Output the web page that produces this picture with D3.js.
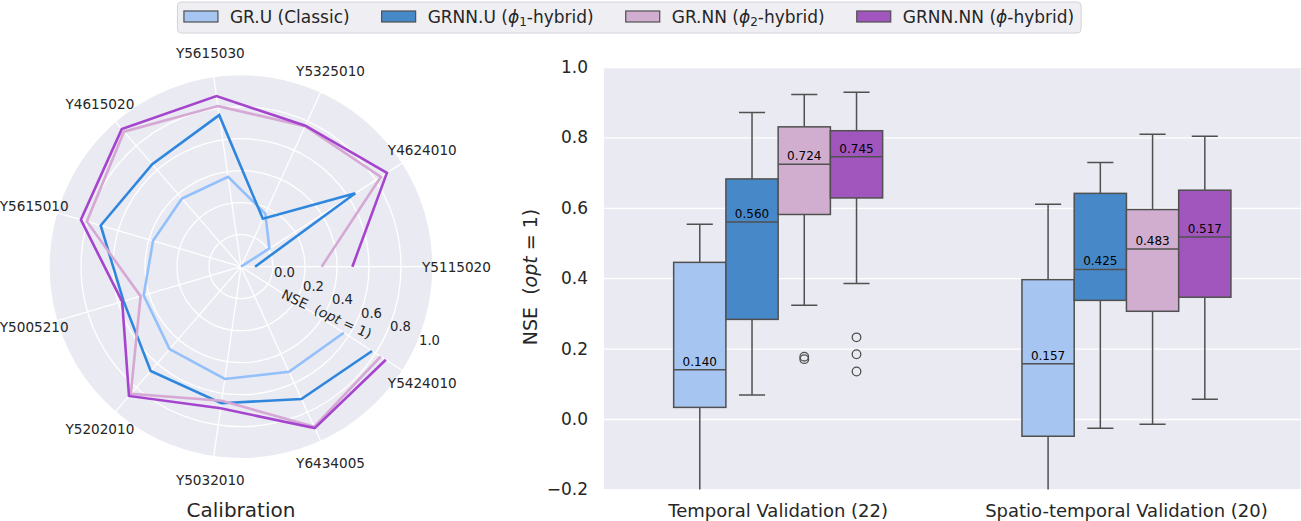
<!DOCTYPE html>
<html>
<head>
<meta charset="utf-8">
<script src="https://cdn.jsdelivr.net/npm/d3@7"></script>
<style>
  body { margin: 0; background: #fff; }
  svg { display: block; font-family: "DejaVu Sans", sans-serif; }
</style>
</head>
<body>
<div id="chart"></div>
<script>
// ---- data ----
const seriesKeys = ["GR.U", "GRNN.U", "GR.NN", "GRNN.NN"];
const legendLabels = [
  { pre: "GR.U (Classic)" },
  { pre: "GRNN.U (", sym: "ϕ", sub: "1", post: "-hybrid)" },
  { pre: "GR.NN (", sym: "ϕ", sub: "2", post: "-hybrid)" },
  { pre: "GRNN.NN (", sym: "ϕ", sub: "", post: "-hybrid)" }
];

// calibration NSE per station (radar)
const stations = ["Y5115020", "Y4624010", "Y5325010", "Y5615030", "Y4615020", "Y5615010",
                  "Y5005210", "Y5202010", "Y5032010", "Y6434005", "Y5424010"];
const calGRU    = [-0.20, 0.011, 0.165, 0.367, 0.364, 0.373, 0.434, 0.482, 0.509, 0.522, 0.564];
const calGRNNU  = [-0.112, 0.649, 0.129, 0.757, 0.647, 0.714, 0.565, 0.662, 0.662, 0.709, 0.774];
const calGRNN   = [0.304, 0.839, 0.765, 0.814, 0.917, 0.804, 0.454, 0.852, 0.646, 0.900, 0.838];
const calGRNNNN = [0.496, 0.884, 0.769, 0.877, 0.938, 0.843, 0.574, 0.869, 0.694, 0.909, 0.876];
const radialTicks = [0.0, 0.2, 0.4, 0.6, 0.8, 1.0];

// validation boxes: [lower whisker, q1, median, q3, upper whisker]
const categories = ["Temporal Validation (22)", "Spatio-temporal Validation (20)"];
const temporalStats = [
  [-0.45, 0.033, 0.140, 0.445, 0.553],
  [0.068, 0.283, 0.560, 0.682, 0.871],
  [0.323, 0.581, 0.724, 0.830, 0.922],
  [0.385, 0.628, 0.745, 0.819, 0.928]
];
const temporalOutliers = [[], [], [0.177, 0.170], [0.232, 0.184, 0.135]];
const spatialStats = [
  [-0.40, -0.049, 0.157, 0.396, 0.610],
  [-0.026, 0.337, 0.425, 0.641, 0.729],
  [-0.015, 0.306, 0.483, 0.595, 0.809],
  [0.056, 0.346, 0.517, 0.650, 0.803]
];
const spatialOutliers = [[], [], [], []];
const yTicks = [-0.2, 0.0, 0.2, 0.4, 0.6, 0.8, 1.0];

// ---- style ----
const lineColors = ["#93c0fb", "#2f87dd", "#d6a8d4", "#a545ce"];
const boxColors  = ["#a6c5f1", "#4788c9", "#d1aecf", "#a056bd"];
const edgeColor = "#505050";
const panelBg = "#eaeaf2";

const W = 1301, H = 521;
const svg = d3.select("#chart").append("svg")
  .attr("width", W).attr("height", H);

// ================= radar (calibration) =================
const cx = 241, cy = 266.7, R = 192;
const calSeries = [calGRU, calGRNNU, calGRNN, calGRNNNN];
const rScale = d3.scaleLinear().domain([-0.2, 1.0]).range([0, R]).clamp(true);
const angleOf = i => i * 2 * Math.PI / stations.length;   // ccw from east

const radar = svg.append("g").attr("transform", `translate(${cx},${cy})`);
radar.append("circle").attr("r", R).attr("fill", panelBg);

// grid circles
radar.selectAll("circle.grid")
  .data(radialTicks)
  .join("circle")
  .attr("class", "grid")
  .attr("r", d => rScale(d))
  .attr("fill", "none")
  .attr("stroke", "#fff")
  .attr("stroke-width", 1.3);

// spokes
radar.selectAll("line.spoke")
  .data(stations)
  .join("line")
  .attr("class", "spoke")
  .attr("x1", 0).attr("y1", 0)
  .attr("x2", (d, i) => R * Math.cos(angleOf(i)))
  .attr("y2", (d, i) => -R * Math.sin(angleOf(i)))
  .attr("stroke", "#fff")
  .attr("stroke-width", 1.3);

// series lines (not closed)
const radial = d3.lineRadial()
  .angle((d, i) => Math.PI / 2 - angleOf(i))
  .radius(d => rScale(d));

radar.selectAll("path.series")
  .data(calSeries)
  .join("path")
  .attr("class", "series")
  .attr("d", radial)
  .attr("fill", "none")
  .attr("stroke", (d, i) => lineColors[i])
  .attr("stroke-width", 2.6)
  .attr("stroke-linejoin", "miter");

// station labels
const labelR = 215.5;
radar.selectAll("text.station")
  .data(stations)
  .join("text")
  .attr("class", "station")
  .attr("x", (d, i) => labelR * Math.cos(angleOf(i)))
  .attr("y", (d, i) => -labelR * Math.sin(angleOf(i)))
  .attr("dy", "0.36em")
  .attr("text-anchor", "middle")
  .attr("font-size", 13.6)
  .attr("fill", "#262626")
  .text(d => d);

// radial tick labels along -25 degrees
const rlab = 25 * Math.PI / 180;
radar.selectAll("text.rtick")
  .data(radialTicks)
  .join("text")
  .attr("class", "rtick")
  .attr("x", d => rScale(d) * Math.cos(rlab) + 4)
  .attr("y", d => rScale(d) * Math.sin(rlab) - 3)
  .attr("font-size", 13.2)
  .attr("fill", "#262626")
  .text(d3.format(".1f"));

const rAxisLabel = radar.append("text")
  .attr("transform", `translate(85.7,47.3) rotate(25)`)
  .attr("text-anchor", "middle")
  .attr("dy", "0.36em")
  .attr("font-size", 13.6)
  .attr("fill", "#262626");
rAxisLabel.append("tspan").text("NSE\u00a0\u00a0(");
rAxisLabel.append("tspan").attr("font-style", "italic").text("opt");
rAxisLabel.append("tspan").text(" = 1)");

svg.append("text")
  .attr("x", cx).attr("y", 516.5)
  .attr("text-anchor", "middle")
  .attr("font-size", 20)
  .attr("fill", "#262626")
  .text("Calibration");

// ================= box plots (validation) =================
const plot = { left: 604, right: 1300.6, top: 67, bottom: 489.4 };
const x = d3.scaleBand().domain(categories).range([plot.left, plot.right]).padding(0);
const bw = x.bandwidth();
const xHue = d3.scaleBand().domain(seriesKeys).range([-0.3 * bw, 0.3 * bw]).padding(0);
const y = d3.scaleLinear().domain([-0.2, 1.0]).range([plot.bottom, plot.top]);

svg.append("rect")
  .attr("x", plot.left).attr("y", plot.top)
  .attr("width", plot.right - plot.left).attr("height", plot.bottom - plot.top)
  .attr("fill", panelBg);

svg.append("clipPath").attr("id", "plotClip")
  .append("rect")
  .attr("x", plot.left).attr("y", plot.top)
  .attr("width", plot.right - plot.left).attr("height", plot.bottom - plot.top);

// y axis with gridlines
const yAxis = svg.append("g")
  .attr("transform", `translate(${plot.left},0)`)
  .call(d3.axisLeft(y).tickValues(yTicks).tickFormat(d3.format(".1f"))
    .tickSize(-(plot.right - plot.left)).tickPadding(16));
yAxis.select(".domain").remove();
yAxis.selectAll(".tick line").attr("stroke", "#fff").attr("stroke-width", 1.3);
yAxis.selectAll(".tick text")
  .attr("font-size", 17).attr("fill", "#262626")
  .attr("font-family", "DejaVu Sans, sans-serif");

// x axis labels
const xAxis = svg.append("g")
  .attr("transform", `translate(0,${plot.bottom})`)
  .call(d3.axisBottom(x).tickSize(0).tickPadding(15));
xAxis.select(".domain").remove();
xAxis.selectAll(".tick text")
  .attr("font-size", 18).attr("fill", "#262626")
  .attr("font-family", "DejaVu Sans, sans-serif");

// y label
const yLabel = svg.append("text")
  .attr("transform", "translate(530,277) rotate(-90)")
  .attr("text-anchor", "middle")
  .attr("dy", "0.36em")
  .attr("font-size", 19)
  .attr("fill", "#262626");
yLabel.append("tspan").text("NSE\u00a0\u00a0(");
yLabel.append("tspan").attr("font-style", "italic").text("opt");
yLabel.append("tspan").text(" = 1)");

// boxes
const groups = [
  { cat: categories[0], stats: temporalStats, outliers: temporalOutliers },
  { cat: categories[1], stats: spatialStats, outliers: spatialOutliers }
];
const boxData = [];
groups.forEach(g => g.stats.forEach((s, i) => boxData.push({
  cat: g.cat, key: seriesKeys[i], idx: i, lo: s[0], q1: s[1], med: s[2], q3: s[3], hi: s[4],
  out: g.outliers[i]
})));

const boxes = svg.append("g").attr("clip-path", "url(#plotClip)")
  .selectAll("g.box")
  .data(boxData)
  .join("g")
  .attr("class", "box")
  .attr("transform", d => `translate(${x(d.cat) + bw / 2 + xHue(d.key)},0)`);

const hw = xHue.bandwidth();
boxes.append("line")
  .attr("x1", hw / 2).attr("x2", hw / 2)
  .attr("y1", d => y(d.lo)).attr("y2", d => y(d.q1))
  .attr("stroke", edgeColor).attr("stroke-width", 1.5);
boxes.append("line")
  .attr("x1", hw / 2).attr("x2", hw / 2)
  .attr("y1", d => y(d.q3)).attr("y2", d => y(d.hi))
  .attr("stroke", edgeColor).attr("stroke-width", 1.5);
boxes.append("line")
  .attr("x1", hw / 4).attr("x2", hw * 3 / 4)
  .attr("y1", d => y(d.lo)).attr("y2", d => y(d.lo))
  .attr("stroke", edgeColor).attr("stroke-width", 1.5);
boxes.append("line")
  .attr("x1", hw / 4).attr("x2", hw * 3 / 4)
  .attr("y1", d => y(d.hi)).attr("y2", d => y(d.hi))
  .attr("stroke", edgeColor).attr("stroke-width", 1.5);
boxes.append("rect")
  .attr("x", 0).attr("width", hw)
  .attr("y", d => y(d.q3)).attr("height", d => y(d.q1) - y(d.q3))
  .attr("fill", d => boxColors[d.idx])
  .attr("stroke", edgeColor).attr("stroke-width", 1.5);
boxes.append("line")
  .attr("x1", 0).attr("x2", hw)
  .attr("y1", d => y(d.med)).attr("y2", d => y(d.med))
  .attr("stroke", edgeColor).attr("stroke-width", 1.5);
boxes.append("text")
  .attr("x", hw / 2).attr("y", d => y(d.med) - 4)
  .attr("text-anchor", "middle")
  .attr("font-size", 12)
  .attr("fill", "#000")
  .text(d => d3.format(".3f")(d.med));
boxes.selectAll("circle")
  .data(d => d.out)
  .join("circle")
  .attr("cx", hw / 2).attr("cy", v => y(v))
  .attr("r", 4.3)
  .attr("fill", "none")
  .attr("stroke", edgeColor).attr("stroke-width", 1.3);

// ================= legend =================
const legend = svg.append("g");
const legFrame = legend.append("rect")
  .attr("y", 2).attr("height", 31).attr("rx", 4)
  .attr("fill", "#eeeef3").attr("stroke", "#d3d3d8").attr("stroke-width", 1);
let cursor = 0;
legendLabels.forEach((lab, i) => {
  legend.append("rect")
    .attr("x", cursor).attr("y", 11).attr("width", 34).attr("height", 11)
    .attr("fill", boxColors[i]).attr("stroke", edgeColor).attr("stroke-width", 1.2);
  const t = legend.append("text")
    .attr("x", cursor + 46).attr("y", 22.5)
    .attr("font-size", 17).attr("fill", "#262626");
  t.append("tspan").text(lab.pre);
  if (lab.sym) {
    t.append("tspan").attr("font-style", "italic").text(lab.sym);
    if (lab.sub) {
      t.append("tspan").attr("font-size", 12).attr("dy", 3).text(lab.sub);
      t.append("tspan").attr("dy", -3).text(lab.post);
    } else {
      t.append("tspan").text(lab.post);
    }
  }
  cursor += 46 + t.node().getComputedTextLength() + 32;
});
const contentW = cursor - 32;
const frameW = contentW + 6.5 + 7;
const legX = 629.3 - frameW / 2;
legFrame.attr("x", -6.5).attr("width", frameW);
legend.attr("transform", `translate(${legX + 6.5},0)`);
</script>
</body>
</html>
